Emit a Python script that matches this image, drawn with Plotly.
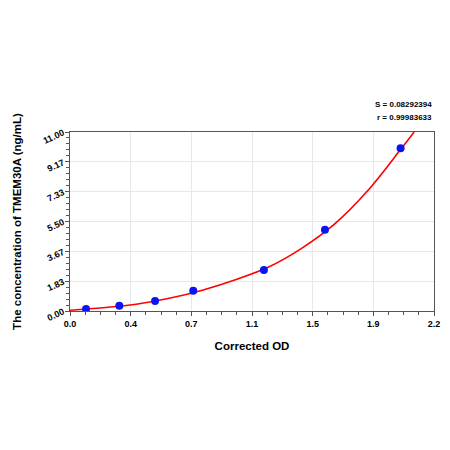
import plotly.graph_objects as go

# measured standards (corrected OD vs concentration)
od_points = [0.097, 0.298, 0.514, 0.745, 1.172, 1.541, 1.998]
conc_points = [0.12, 0.33, 0.61, 1.25, 2.52, 5.00, 10.00]

# fitted curve
curve_od = [0.0, 0.2, 0.4, 0.6, 0.8, 1.0, 1.2, 1.4, 1.6, 1.8, 2.0, 2.08]
curve_conc = [0.05, 0.2, 0.42, 0.78, 1.28, 1.92, 2.7, 3.85, 5.35, 7.4, 9.95, 11.0]

x_ticktext = ["0.0", "0.4", "0.7", "1.1", "1.5", "1.9", "2.2"]
y_ticktext = ["0.00", "1.83", "3.67", "5.50", "7.33", "9.17", "11.00"]

fit_stats = ["S = 0.08292394", "r = 0.99983633"]

x_max = 2.2
y_max = 11.0
x_tickvals = [i * x_max / 6 for i in range(7)]
y_tickvals = [i * y_max / 6 for i in range(7)]

font_family = "Arial, Liberation Sans, sans-serif"

fig = go.Figure()
fig.add_trace(go.Scatter(
    x=curve_od, y=curve_conc, mode="lines",
    line=dict(color="#ff0000", width=1.6, shape="spline"),
    showlegend=False,
))
fig.add_trace(go.Scatter(
    x=od_points, y=conc_points, mode="markers",
    marker=dict(color="#0a14f0", size=8),
    showlegend=False,
))

axis_common = dict(
    showline=True, linecolor="#555555", linewidth=1.2, mirror=True,
    showgrid=True, gridcolor="#e8e8e8", gridwidth=1,
    zeroline=False, ticks="outside", ticklen=4, tickcolor="#555555",
    automargin=False,
    tickfont=dict(family=font_family, size=9, color="black", weight="bold"),
)

fig.update_xaxes(
    range=[0, x_max], tickmode="array", tickvals=x_tickvals, ticktext=x_ticktext,
    minor=dict(tickmode="linear", tick0=0, dtick=x_max / 24, ticklen=3,
               ticks="outside", tickcolor="#555555", showgrid=False),
    title=dict(text="Corrected OD", standoff=14,
               font=dict(family=font_family, size=11.5, color="black", weight="bold")),
    **axis_common,
)
fig.update_yaxes(
    range=[0, y_max], tickmode="array", tickvals=y_tickvals, ticktext=y_ticktext,
    tickangle=-25,
    minor=dict(tickmode="linear", tick0=0, dtick=y_max / 30, ticklen=3,
               ticks="outside", tickcolor="#555555", showgrid=False),
    title=dict(text="The concentration of TMEM30A (ng/mL)", standoff=17,
               font=dict(family=font_family, size=11.5, color="black", weight="bold")),
    **axis_common,
)

for line_text, y_pos in zip(fit_stats, [1.156, 1.08]):
    fig.add_annotation(
        text=line_text,
        xref="paper", yref="paper", x=1.0, y=y_pos,
        xanchor="right", yanchor="middle", align="right", showarrow=False,
        font=dict(family=font_family, size=8, color="black", weight="bold"),
    )

# page adds an 8px offset, so margins are shifted to land the plot where the reference has it
fig.update_layout(
    width=450, height=450,
    margin=dict(l=62, r=24, t=124, b=147),
    plot_bgcolor="white", paper_bgcolor="white",
)

fig.write_html("out.html")
